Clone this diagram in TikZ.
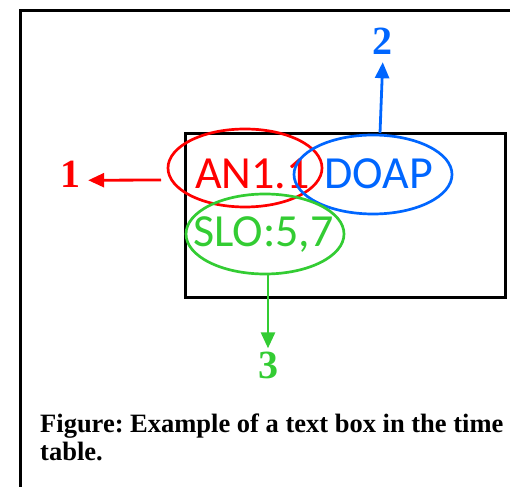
\documentclass[tikz,border=0pt]{standalone}
\usepackage{fontspec}
\setmainfont{Liberation Serif}
\newfontfamily\cellfont{Carlito}
\usepackage{tikz}
\usetikzlibrary{positioning,shapes.geometric,arrows.meta}
\definecolor{anred}{RGB}{255,0,0}
\definecolor{doblue}{RGB}{0,102,255}
\definecolor{slgreen}{RGB}{51,204,51}
\tikzset{ring/.style={ellipse,draw,line width=2.7pt,inner sep=0pt,outer sep=0pt},
	 cellbox/.style={draw,line width=3pt,inner sep=0pt,outer sep=0pt,minimum width=320pt,minimum height=164pt},
	 celltext/.style={inner sep=0pt,anchor=base west,font=\cellfont\fontsize{46}{50}\selectfont},
	 numlab/.style={inner sep=0pt,anchor=base,font=\bfseries\fontsize{40}{44}\selectfont},
	 captext/.style={inner sep=0pt,anchor=base west,font=\bfseries\fontsize{26.5}{28}\selectfont\frenchspacing},
	 pointer/.style={line width=2.8pt,-{Triangle[length=16pt,width=14pt]}}
	 }

\begin{document}
\begin{tikzpicture}[x=1pt,y=1pt] % text box in the time table
	\useasboundingbox (0,0) rectangle (510,487);
	\draw[line width=3pt] (510,476.5) -- (20.5,476.5) -- (20.5,0);
	\node[cellbox] (cell) at (345.75,271) {};
	\node[celltext,anred] (an) at (195,298.5) {AN1.1};
	\node[celltext,doblue] (doap) at (324,298.5) {DOAP};
	\node[celltext,slgreen] (slo) at (193,240) {SLO:5,7};
	\node[ring,anred,minimum width=154pt,minimum height=78pt] (red) at (245,319) {};
	\node[ring,doblue,minimum width=158pt,minimum height=79pt] (blue) at (373,312.5) {};
	\node[ring,slgreen,minimum width=158pt,minimum height=80pt] (green) at (265,253) {};
	\node[numlab,anred] (one) at (70,299) {1};
	\node[numlab,doblue] (two) at (382,432) {2};
	\node[numlab,slgreen] (three) at (268,109) {3};
	\draw[pointer,anred,shorten >=8pt] ([xshift=-7pt,yshift=-12pt]red.west) -- ([yshift=-5.5pt]one.east);
	\draw[pointer,doblue,shorten >=7pt] ([xshift=7pt,yshift=2pt]blue.north) -- ([xshift=1pt]two.south);
	\draw[pointer,slgreen,shorten >=3pt] ([xshift=3pt]green.south) -- (three.north);
	\node[captext] (cap1) at (40,55) {Figure: Example of a text box in the time};
	\node[captext] (cap2) at (40,27) {table.};
\end{tikzpicture}
\end{document}
